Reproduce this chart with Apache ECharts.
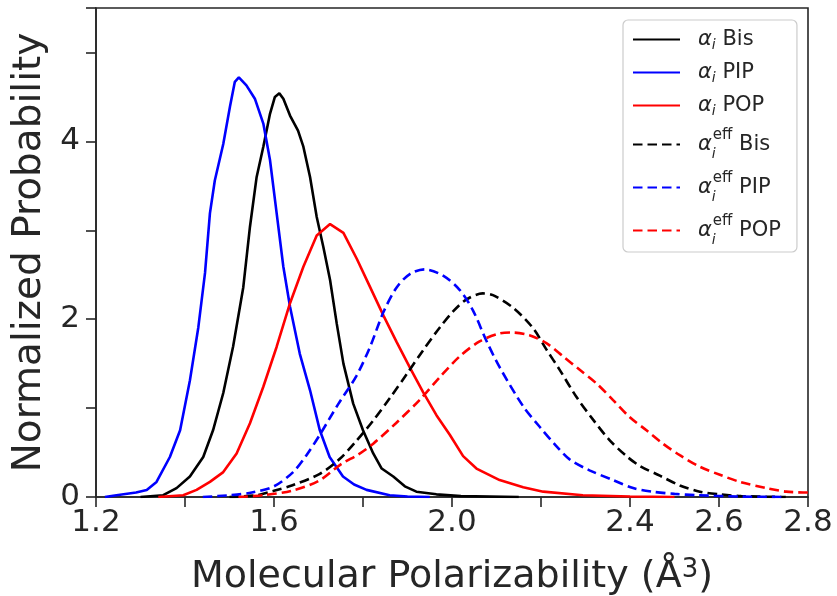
<!DOCTYPE html>
<html>
<head>
<meta charset="utf-8">
<script src="https://cdn.jsdelivr.net/npm/echarts@6/dist/echarts.min.js"></script>
<style>
  html, body { margin: 0; padding: 0; background: #fff; }
  #chart { width: 837px; height: 596px; }
</style>
</head>
<body>
<div id="chart"></div>
<script>
// Distributions of molecular polarizability, [value in Å^3, normalized probability]
const bisAlpha = [[1.30,0],[1.351,0.02],[1.381,0.10],[1.411,0.23],[1.441,0.45],[1.463,0.75],[1.486,1.17],[1.508,1.69],[1.531,2.36],[1.546,3.04],[1.561,3.60],[1.576,3.94],[1.591,4.31],[1.602,4.50],[1.612,4.54],[1.621,4.48],[1.636,4.29],[1.654,4.12],[1.666,3.94],[1.681,3.60],[1.696,3.15],[1.711,2.81],[1.726,2.44],[1.741,1.95],[1.756,1.50],[1.778,1.05],[1.800,0.75],[1.823,0.49],[1.842,0.32],[1.868,0.23],[1.894,0.12],[1.920,0.06],[1.965,0.03],[2.020,0.01],[2.150,0]];
const pipAlpha = [[1.22,0],[1.246,0.02],[1.290,0.05],[1.314,0.08],[1.336,0.17],[1.366,0.45],[1.389,0.75],[1.411,1.31],[1.430,1.91],[1.445,2.52],[1.456,3.19],[1.467,3.56],[1.486,3.97],[1.501,4.39],[1.512,4.67],[1.521,4.72],[1.538,4.63],[1.557,4.48],[1.576,4.20],[1.591,3.79],[1.606,3.19],[1.621,2.59],[1.636,2.14],[1.658,1.61],[1.681,1.20],[1.703,0.75],[1.725,0.45],[1.755,0.23],[1.780,0.14],[1.808,0.08],[1.860,0.02],[1.900,0.005],[1.950,0]];
const popAlpha = [[1.34,0],[1.396,0.02],[1.426,0.08],[1.456,0.17],[1.486,0.28],[1.516,0.49],[1.546,0.83],[1.576,1.24],[1.606,1.69],[1.636,2.18],[1.666,2.59],[1.696,2.94],[1.726,3.07],[1.756,2.97],[1.786,2.68],[1.816,2.36],[1.846,2.04],[1.876,1.74],[1.906,1.45],[1.935,1.18],[1.965,0.92],[1.995,0.70],[2.025,0.46],[2.055,0.32],[2.107,0.19],[2.160,0.11],[2.205,0.06],[2.294,0.02],[2.400,0.005],[2.500,0]];
const bisEff = [[1.50,0],[1.561,0.02],[1.600,0.07],[1.640,0.13],[1.703,0.26],[1.748,0.43],[1.785,0.63],[1.823,0.86],[1.860,1.11],[1.898,1.38],[1.935,1.65],[1.973,1.91],[2.003,2.09],[2.032,2.22],[2.069,2.29],[2.092,2.27],[2.137,2.13],[2.182,1.90],[2.212,1.66],[2.242,1.43],[2.279,1.13],[2.317,0.87],[2.354,0.64],[2.392,0.46],[2.422,0.35],[2.467,0.24],[2.512,0.13],[2.557,0.06],[2.602,0.03],[2.650,0.01],[2.750,0]];
const pipEff = [[1.44,0],[1.500,0.02],[1.550,0.05],[1.600,0.12],[1.643,0.28],[1.673,0.47],[1.703,0.70],[1.745,1.05],[1.785,1.36],[1.816,1.69],[1.846,2.08],[1.876,2.36],[1.906,2.51],[1.939,2.56],[1.980,2.49],[2.017,2.33],[2.047,2.10],[2.077,1.76],[2.107,1.46],[2.160,1.02],[2.197,0.79],[2.235,0.57],[2.265,0.42],[2.309,0.30],[2.362,0.19],[2.407,0.10],[2.450,0.06],[2.500,0.035],[2.550,0.02],[2.650,0.005],[2.750,0]];
const popEff = [[1.52,0],[1.576,0.02],[1.640,0.07],[1.700,0.18],[1.751,0.37],[1.790,0.48],[1.823,0.60],[1.874,0.83],[1.927,1.09],[1.973,1.35],[2.017,1.58],[2.062,1.75],[2.107,1.84],[2.135,1.85],[2.174,1.82],[2.212,1.73],[2.250,1.58],[2.287,1.43],[2.324,1.28],[2.362,1.09],[2.399,0.90],[2.437,0.75],[2.474,0.60],[2.512,0.47],[2.557,0.34],[2.602,0.25],[2.647,0.17],[2.707,0.10],[2.751,0.06],[2.800,0.05]];

const seriesNames = ['αi Bis', 'αi PIP', 'αi POP', 'αieff Bis', 'αieff PIP', 'αieff POP'];
const legendLabels = [
  '{a|α}{sub|i}{t| Bis}',
  '{a|α}{sub|i}{t| PIP}',
  '{a|α}{sub|i}{t| POP}',
  '{a|α}{subz|i}{sup|eff}{t| Bis}',
  '{a|α}{subz|i}{sup|eff}{t| PIP}',
  '{a|α}{subz|i}{sup|eff}{t| POP}'
];
const xTickLabels = ['1.2', '1.6', '2.0', '2.4', '2.6', '2.8'];
const yTickLabels = ['0', '2', '4'];

const ink = '#262626';
const font = 'DejaVu Sans';
const dash = [9.5, 5];

function lineSeries(name, data, color, dashed) {
  return {
    name: name,
    type: 'line',
    data: data,
    showSymbol: false,
    symbol: 'none',
    smooth: dashed ? 0.3 : false,
    lineStyle: { color: color, width: 2.6, type: dashed ? dash : 'solid' },
    itemStyle: { color: color },
    emphasis: { disabled: true },
    animation: false
  };
}

const chart = echarts.init(document.getElementById('chart'), null, { renderer: 'canvas' });
chart.setOption({
  animation: false,
  backgroundColor: '#ffffff',
  textStyle: { fontFamily: font },
  grid: {
    left: 96, right: 29, top: 8, bottom: 99,
    outerBoundsMode: 'none', containLabel: false,
    show: true, borderColor: ink, borderWidth: 1.6, backgroundColor: 'transparent'
  },
  xAxis: {
    type: 'value',
    min: 1.2, max: 2.8, interval: 0.2,
    name: 'Molecular Polarizability (Å{sup|3})',
    nameLocation: 'middle',
    nameGap: 60,
    nameTextStyle: {
      fontFamily: font, fontSize: 38, color: ink,
      rich: { sup: { fontFamily: font, fontSize: 26, color: ink, verticalAlign: 'top', padding: [0, 0, 14, 0] } }
    },
    axisLine: { show: true, lineStyle: { color: ink, width: 1.6 } },
    axisTick: { show: true, length: 10, lineStyle: { color: ink, width: 1.6 } },
    splitLine: { show: false },
    axisLabel: {
      fontFamily: font, fontSize: 31, color: ink, margin: 10,
      formatter: function (v) {
        const s = (Math.round(v * 10) / 10).toFixed(1);
        return xTickLabels.indexOf(s) >= 0 ? s : '';
      }
    }
  },
  yAxis: {
    type: 'value',
    min: 0, max: 5.5, interval: 1,
    name: 'Normalized Probability',
    nameLocation: 'middle',
    nameGap: 44,
    nameTextStyle: { fontFamily: font, fontSize: 39, color: ink },
    axisLine: { show: true, lineStyle: { color: ink, width: 1.6 } },
    axisTick: { show: true, length: 10, lineStyle: { color: ink, width: 1.6 } },
    splitLine: { show: false },
    axisLabel: {
      fontFamily: font, fontSize: 31, color: ink, margin: 16,
      formatter: function (v) {
        const s = String(Math.round(v * 100) / 100);
        return yTickLabels.indexOf(s) >= 0 ? s : '';
      }
    }
  },
  legend: {
    orient: 'vertical',
    left: 623, top: 20,
    padding: [9, 16, 5, 9],
    itemWidth: 47, itemHeight: 14, itemGap: 10,
    backgroundColor: 'rgba(255,255,255,0.8)',
    borderColor: '#cccccc', borderWidth: 1.2, borderRadius: 5,
    itemStyle: { opacity: 0, borderWidth: 0 },
    data: seriesNames,
    formatter: function (name) { return legendLabels[seriesNames.indexOf(name)]; },
    textStyle: {
      fontFamily: font, fontSize: 21, color: ink, padding: [0, 0, 0, 13],
      rich: {
        a: { fontFamily: font, fontStyle: 'italic', fontSize: 21, color: ink, lineHeight: 25 },
        sub: { fontFamily: font, fontStyle: 'italic', fontSize: 14, color: ink, verticalAlign: 'bottom', padding: [6, 0, 0, 0], lineHeight: 25 },
        subz: { fontFamily: font, fontStyle: 'italic', fontSize: 14, color: ink, verticalAlign: 'bottom', padding: [12, 0, 0, 0], width: 1, lineHeight: 33 },
        sup: { fontFamily: font, fontSize: 15, color: ink, verticalAlign: 'top', padding: [0, 0, 10, 0], lineHeight: 33 },
        t: { fontFamily: font, fontSize: 21, color: ink, lineHeight: 25 }
      }
    }
  },
  series: [
    lineSeries(seriesNames[0], bisAlpha, '#000000', false),
    lineSeries(seriesNames[1], pipAlpha, '#0000ff', false),
    lineSeries(seriesNames[2], popAlpha, '#ff0000', false),
    lineSeries(seriesNames[3], bisEff, '#000000', true),
    lineSeries(seriesNames[4], pipEff, '#0000ff', true),
    lineSeries(seriesNames[5], popEff, '#ff0000', true)
  ]
});
</script>
</body>
</html>
